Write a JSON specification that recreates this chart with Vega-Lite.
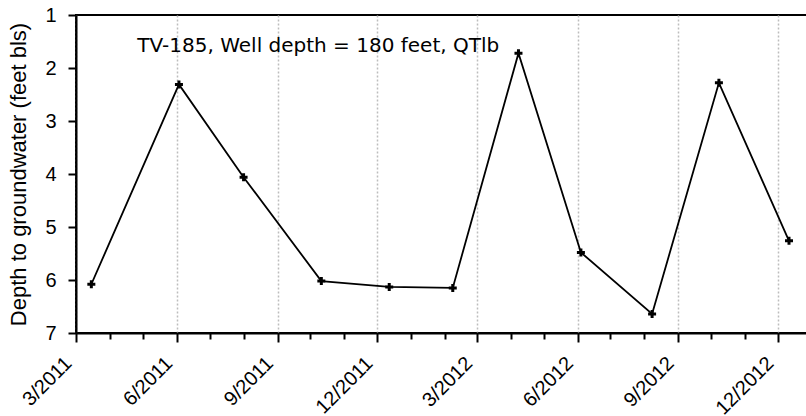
{
  "$schema": "https://vega.github.io/schema/vega-lite/v6.json",
  "autosize": {"type": "none"},
  "padding": {"left": 76, "top": 15, "right": 0, "bottom": 83},
  "width": 736,
  "height": 318,
  "background": "white",
  "config": {
    "view": {"stroke": "black", "strokeWidth": 2}
  },
  "layer": [
    {
      "data": {"values": [
        {"date": "2011-03-15T00:00:00", "depth": 6.08},
        {"date": "2011-06-03T00:00:00", "depth": 2.31},
        {"date": "2011-08-01T00:00:00", "depth": 4.06},
        {"date": "2011-10-11T00:00:00", "depth": 6.02},
        {"date": "2011-12-12T00:00:00", "depth": 6.13},
        {"date": "2012-02-08T00:00:00", "depth": 6.15},
        {"date": "2012-04-08T00:00:00", "depth": 1.72},
        {"date": "2012-06-04T00:00:00", "depth": 5.48},
        {"date": "2012-08-08T00:00:00", "depth": 6.64},
        {"date": "2012-10-08T00:00:00", "depth": 2.28},
        {"date": "2012-12-11T00:00:00", "depth": 5.26}
      ]},
      "encoding": {
        "x": {
          "field": "date", "type": "temporal",
          "scale": {"domain": [{"year": 2011, "month": 3, "date": 1}, {"year": 2013, "month": 1, "date": 1}], "nice": false},
          "axis": {
            "title": null,
            "tickCount": {"interval": "month", "step": 1},
            "labelExpr": "month(datum.value) % 3 === 2 ? timeFormat(datum.value, '%-m/%Y') : ''",
            "labelAngle": -45, "labelAlign": "right", "labelBaseline": "middle",
            "labelFont": "Liberation Sans", "labelColor": "black",
            "labelFontSize": 20, "labelPadding": 18, "labelOffset": -8, "labelOverlap": false, "labelFlush": false,
            "domainColor": "black", "domainWidth": 2,
            "tickColor": "black", "tickWidth": 2,
            "tickSize": {"condition": {"test": "month(datum.value) % 3 === 2", "value": 9}, "value": 6},
            "grid": true, "gridColor": "#bdbdbd", "gridDash": [2, 2], "gridWidth": 1.5,
            "gridOpacity": {"condition": {"test": "month(datum.value) % 3 === 2", "value": 1}, "value": 0}
          }
        },
        "y": {
          "field": "depth", "type": "quantitative",
          "scale": {"domain": [1, 7], "reverse": true, "nice": false, "zero": false},
          "axis": {
            "title": "Depth to groundwater (feet bls)",
            "titleFont": "Liberation Sans", "titleColor": "black",
            "titleFontSize": 22, "titleFontWeight": "normal", "titlePadding": 14,
            "values": [1, 1.5, 2, 2.5, 3, 3.5, 4, 4.5, 5, 5.5, 6, 6.5, 7],
            "labelExpr": "datum.value % 1 === 0 ? datum.label : ''",
            "labelFont": "Liberation Sans", "labelColor": "black",
            "labelFontSize": 20, "labelPadding": 12,
            "domainColor": "black", "domainWidth": 2,
            "tickColor": "black", "tickWidth": 2,
            "tickSize": {"condition": {"test": "datum.value % 1 === 0", "value": 8}, "value": 5},
            "grid": false
          }
        }
      },
      "layer": [
        {"mark": {"type": "line", "color": "black", "strokeWidth": 1.8}},
        {"mark": {"type": "point", "shape": "M-1,0L1,0M0,-1L0,1", "filled": false, "stroke": "black", "strokeWidth": 3, "size": 64, "opacity": 1}}
      ]
    },
    {
      "data": {"values": [{"label": "TV-185, Well depth = 180 feet, QTlb"}]},
      "mark": {"type": "text", "font": "DejaVu Sans", "fontSize": 20, "align": "left", "baseline": "middle", "color": "black"},
      "encoding": {
        "text": {"field": "label"},
        "x": {"datum": {"year": 2011, "month": 4, "date": 26}, "type": "temporal"},
        "y": {"datum": 1.58, "type": "quantitative"}
      }
    }
  ]
}
